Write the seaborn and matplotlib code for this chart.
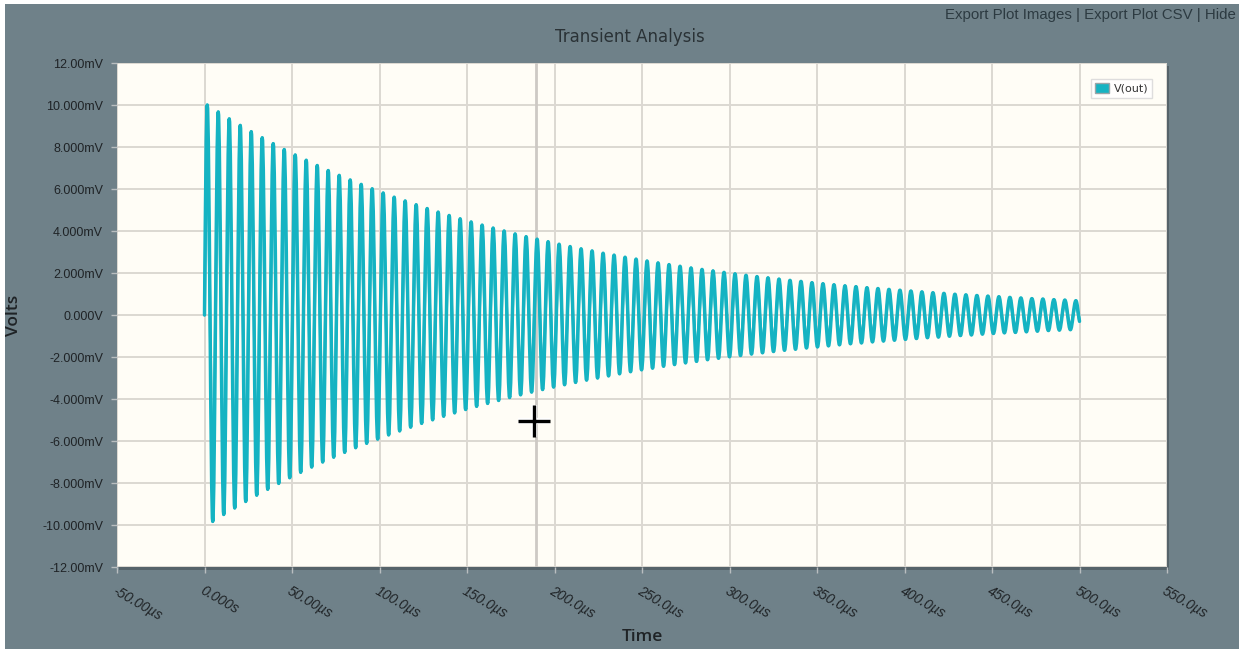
import numpy as np
import pandas as pd
import matplotlib
matplotlib.use("Agg")
import matplotlib.pyplot as plt
import matplotlib.patheffects as pe
from matplotlib.patches import Patch, Rectangle, PathPatch
from matplotlib.path import Path
import seaborn as sns

# values: time in us, voltage in mV
period_us = 6.283          # one oscillation, ~159 kHz
end_time_us = 500.0
end_value_mv = -0.30

# positive peak of every cycle
peak_mv = [10.00, 9.67, 9.34, 9.03, 8.73, 8.44, 8.16, 7.88, 7.62, 7.37,
           7.12, 6.88, 6.65, 6.43, 6.22, 6.01, 5.81, 5.61, 5.43, 5.25,
           5.07, 4.90, 4.74, 4.58, 4.43, 4.28, 4.14, 4.00, 3.86, 3.73,
           3.61, 3.49, 3.37, 3.26, 3.15, 3.05, 2.94, 2.85, 2.75, 2.66,
           2.57, 2.48, 2.40, 2.32, 2.24, 2.17, 2.10, 2.03, 1.96, 1.89,
           1.83, 1.77, 1.71, 1.65, 1.60, 1.54, 1.49, 1.44, 1.39, 1.35,
           1.30, 1.26, 1.22, 1.18, 1.14, 1.10, 1.06, 1.03, 0.99, 0.96,
           0.93, 0.90, 0.87, 0.84, 0.81, 0.78, 0.76, 0.73, 0.71, 0.68]

# negative peak of every cycle
trough_mv = [-9.83, -9.50, -9.19, -8.88, -8.58, -8.30, -8.02, -7.75, -7.49, -7.24,
             -7.00, -6.77, -6.54, -6.32, -6.11, -5.91, -5.71, -5.52, -5.34, -5.16,
             -4.99, -4.82, -4.66, -4.50, -4.35, -4.21, -4.07, -3.93, -3.80, -3.67,
             -3.55, -3.43, -3.32, -3.21, -3.10, -3.00, -2.90, -2.80, -2.70, -2.61,
             -2.53, -2.44, -2.36, -2.28, -2.21, -2.13, -2.06, -1.99, -1.93, -1.86,
             -1.80, -1.74, -1.68, -1.63, -1.57, -1.52, -1.47, -1.42, -1.37, -1.33,
             -1.28, -1.24, -1.20, -1.16, -1.12, -1.08, -1.05, -1.01, -0.98, -0.95,
             -0.91, -0.88, -0.85, -0.83, -0.80, -0.77, -0.74, -0.72, -0.70]

hover_us = 189.5
cursor_us = 188.3
cursor_mv = -5.05

x_ticks = [-50, 0, 50, 100, 150, 200, 250, 300, 350, 400, 450, 500, 550]
x_tick_labels = ["-50.00µs", "0.000s", "50.00µs", "100.0µs", "150.0µs", "200.0µs",
                 "250.0µs", "300.0µs", "350.0µs", "400.0µs", "450.0µs", "500.0µs",
                 "550.0µs"]
y_ticks = [-12, -10, -8, -6, -4, -2, 0, 2, 4, 6, 8, 10, 12]
y_tick_labels = ["-12.00mV", "-10.000mV", "-8.000mV", "-6.000mV", "-4.000mV",
                 "-2.000mV", "0.000V", "2.000mV", "4.000mV", "6.000mV", "8.000mV",
                 "10.000mV", "12.00mV"]

# the trace: start at 0, alternate peaks and troughs, end value
peak_t = period_us / 4 + period_us * np.arange(len(peak_mv))
trough_t = 3 * period_us / 4 + period_us * np.arange(len(trough_mv))
df = pd.DataFrame({
    "time": np.concatenate([[0.0], peak_t, trough_t, [end_time_us]]),
    "volts": np.concatenate([[0.0], peak_mv, trough_mv, [end_value_mv]]),
}).sort_values("time").reset_index(drop=True)

bg = "#6f8189"
plot_bg = "#fffdf6"
grid_c = "#dcd8d2"
line_c = "#15b3c2"
text_c = "#1f2326"

sns.set_theme(style="white")
plt.rcParams["font.family"] = ["DejaVu Sans"]

W, H = 1239, 653
fig = plt.figure(figsize=(W / 100, H / 100), dpi=100, facecolor="white")
fig.patches.append(Rectangle((5 / W, 4 / H), 1, 1 - 8 / H, transform=fig.transFigure,
                             facecolor=bg, edgecolor="none", zorder=-3))
# shadow under the plot area
fig.patches.append(Rectangle((119 / W, 1 - 570 / H), 1050 / W, 504 / H,
                             transform=fig.transFigure, facecolor="#56636a",
                             edgecolor="none", zorder=-2))

ax = fig.add_axes([117 / W, 1 - 567 / H, 1050 / W, 504 / H])
ax.set_facecolor(plot_bg)

sns.lineplot(data=df, x="time", y="volts", ax=ax, color=line_c, linewidth=2.0,
             sort=False, estimator=None)

# smooth the same trace with bezier segments (flat tangent at each extremum)
ts = df["time"].to_numpy()
vs = df["volts"].to_numpy()
verts = [(ts[0], vs[0])]
codes = [Path.MOVETO]
k = 0.3634
for i in range(len(ts) - 1):
    x0, y0, x1, y1 = ts[i], vs[i], ts[i + 1], vs[i + 1]
    dx = x1 - x0
    flat0 = i > 0
    flat1 = i + 1 < len(ts) - 1
    c1 = (x0 + k * dx, y0) if flat0 else (x0 + dx / 3, y0 + (y1 - y0) * 0.52)
    c2 = (x1 - k * dx, y1) if flat1 else (x1 - dx / 3, y1 + (y0 - y1) * 0.3)
    verts += [c1, c2, (x1, y1)]
    codes += [Path.CURVE4] * 3
ax.add_patch(PathPatch(Path(verts, codes), facecolor="none", edgecolor=line_c,
                       linewidth=2.5, joinstyle="round", capstyle="round", zorder=3))

ax.axvline(hover_us, color="#cdc9c4", linewidth=2.0, zorder=1.5)
ax.plot([cursor_us], [cursor_mv], marker="+", markersize=23, mew=2.4, color="black",
        zorder=5, path_effects=[pe.withStroke(linewidth=4.5, foreground="white")])

ax.set_xlim(-50, 550)
ax.set_ylim(-12, 12)
ax.set_xticks(x_ticks)
ax.set_xticklabels(x_tick_labels, fontsize=10, style="italic", color=text_c,
                   family=["Liberation Sans", "DejaVu Sans"])
ax.set_yticks(y_ticks)
ax.set_yticklabels(y_tick_labels, fontsize=9, color=text_c,
                   family=["Liberation Sans", "DejaVu Sans"])
for lab in ax.get_xticklabels():
    lab.set_rotation(-30)
    lab.set_ha("left")
    lab.set_va("top")
    lab.set_rotation_mode("anchor")
ax.tick_params(axis="both", which="both", length=4, width=1, color="#b9bec0",
               direction="out", bottom=True, left=True)
ax.tick_params(axis="x", pad=8)
ax.tick_params(axis="y", pad=6)
ax.grid(True, color=grid_c, linewidth=1.4)
ax.set_axisbelow(True)
for s in ax.spines.values():
    s.set_visible(False)

ax.set_xlabel("")
ax.set_ylabel("")
fig.text(642 / W, 1 - 637 / H, "Time", ha="center", va="center", fontsize=12.5,
         fontweight="semibold", color=text_c, family=["Open Sans", "DejaVu Sans"])
fig.text(14 / W, 1 - 315 / H, "Volts", ha="center", va="center", rotation=90,
         fontsize=12.5, fontweight="semibold", color=text_c,
         family=["Open Sans", "DejaVu Sans"])
fig.text(630 / W, 1 - 37 / H, "Transient Analysis", ha="center", va="center",
         fontsize=12, color="#2a3236")
fig.text(1236 / W, 1 - 15 / H, "Export Plot Images | Export Plot CSV | Hide",
         ha="right", va="center", fontsize=10.8, color="#2c3a41",
         family=["Liberation Sans", "DejaVu Sans"])

leg = ax.legend(handles=[Patch(facecolor=line_c, edgecolor="#9aa5a8", label="V(out)")],
                loc="upper right", bbox_to_anchor=(1 - 15 / 1050, 1 - 16 / 504),
                borderaxespad=0, fontsize=8, frameon=True, fancybox=False,
                handlelength=1.3, handleheight=1.0, handletextpad=0.4,
                borderpad=0.35, labelcolor="#333333")
leg.get_frame().set_edgecolor("#d6d6d6")
leg.get_frame().set_facecolor("white")
leg.get_frame().set_linewidth(1.0)

fig.savefig("out.png", dpi=100, facecolor=fig.get_facecolor())
